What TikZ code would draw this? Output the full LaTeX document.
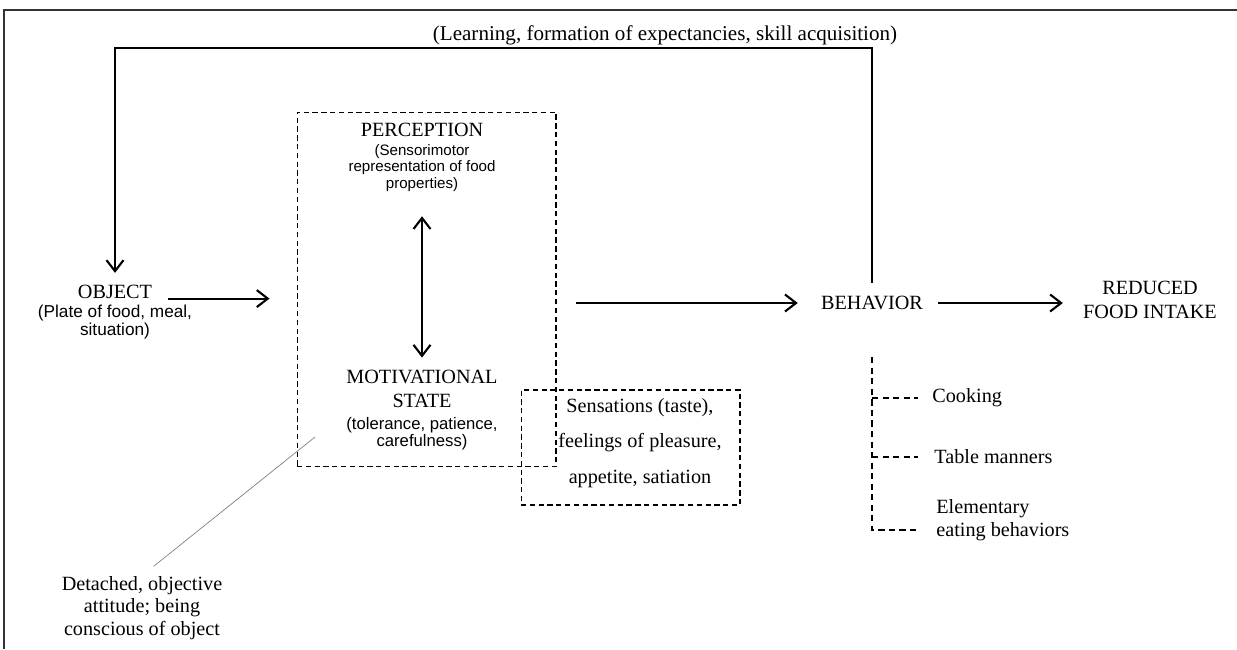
\documentclass[tikz,border=0pt]{standalone}
\usepackage{fontspec}
\setmainfont{Liberation Serif}
\newfontfamily\arialfont{Liberation Sans}
\usetikzlibrary{arrows.meta}

\tikzset{
  headtext/.style={font=\fontsize{11.5}{14}\selectfont, align=center, inner sep=0pt},
  subtext/.style={font=\arialfont\fontsize{9.5}{9.8}\selectfont, align=center, inner sep=0pt},
  itemtext/.style={font=\fontsize{11.5}{13}\selectfont, align=left, inner sep=0pt, anchor=west},
  flowarrow/.style={line width=1.2pt, -{Straight Barb[length=2.2mm,width=3.4mm]}},
  biarrow/.style={line width=1.2pt, {Straight Barb[length=2.2mm,width=3.4mm]}-{Straight Barb[length=2.2mm,width=3.4mm]}},
  dashbox/.style={draw, dash pattern=on 3pt off 2pt, line width=0.6pt, inner sep=0pt},
  tree/.style={line width=1.2pt, dash pattern=on 3.5pt off 2.5pt},
}

\begin{document}
\begin{tikzpicture}[x=0.02cm, y=-0.02cm]
        \useasboundingbox (0,0) rectangle (1237,649);
        \draw[line width=0.8pt, black!80] (4,649) -- (4,10) -- (1237,10);

        % feedback loop label
        \node[headtext, font=\fontsize{12}{14}\selectfont] (learn) at (665,35) {(Learning, formation of expectancies, skill acquisition)};

        \node[headtext] (obj) at (115,292) {OBJECT};
        \node[subtext, font=\arialfont\fontsize{9.8}{10}\selectfont] (objsub) at (115,322) {(Plate of food, meal,\\situation)};

        \node[dashbox, minimum width=5.18cm, minimum height=7.1cm] (mind) at (426.5,289.5) {};
        \node[headtext] (perc) at (422,130) {PERCEPTION};
        \node[subtext, font=\arialfont\fontsize{8.6}{9.6}\selectfont] (percsub) at (422,168) {(Sensorimotor\\representation of food\\properties)};
        \node[headtext] (mot) at (422,389) {MOTIVATIONAL\\STATE};
        \node[subtext] (motsub) at (422,434) {(tolerance, patience,\\carefulness)};

        \node[dashbox, minimum width=4.38cm, minimum height=2.3cm] (sensbox) at (630.5,447.5) {};
        \node[headtext, font=\fontsize{11.5}{20}\selectfont] (sens) at (640,443) {Sensations (taste),\\feelings of pleasure,\\appetite, satiation};

        \node[headtext] (behav) at (872,303) {BEHAVIOR};
        \node[headtext, font=\fontsize{11.5}{13.5}\selectfont] (reduced) at (1150,300) {REDUCED\\FOOD INTAKE};

        \node[itemtext] (cook) at (932,398) {Cooking};
        \node[itemtext] (table) at (934,457) {Table manners};
        \node[itemtext] (elem) at (936,520) {Elementary\\eating behaviors};

        \node[headtext, font=\fontsize{11.5}{13}\selectfont] (detach) at (142,608) {Detached, objective\\attitude; being\\conscious of object};

        % connectors
        \coordinate (loopL) at (115,48);
        \draw[flowarrow, shorten <=0.26cm, shorten >=0.24cm] (behav.north) |- (loopL) -- (obj.north);
        \draw[flowarrow, shorten <=0.32cm, shorten >=0.54cm] (obj.base east) -- (obj.base east -| mind.west);
        \draw[flowarrow, shorten <=0.38cm, shorten >=0.46cm] (mind.east |- behav.west) -- (behav.west);
        \draw[flowarrow, shorten <=0.3cm, shorten >=0.4cm] (behav.east) -- (behav.east -| reduced.west);
        \draw[biarrow, shorten <=0.48cm, shorten >=0.24cm] (percsub.south) -- (mot.north);

        \coordinate (elemarm) at (918,530);
        \draw[tree, shorten <=0.94cm] (behav.south) |- (elemarm);
        \draw[tree, shorten >=0.28cm] (behav.south |- cook.west) -- (cook.west);
        \draw[tree, shorten >=0.32cm] (behav.south |- table.west) -- (table.west);

        \coordinate (attend) at (315,437);
        \draw[gray, line width=0.4pt, shorten <=0.3cm] (detach.north) -- (attend);
    \end{tikzpicture}
\end{document}
